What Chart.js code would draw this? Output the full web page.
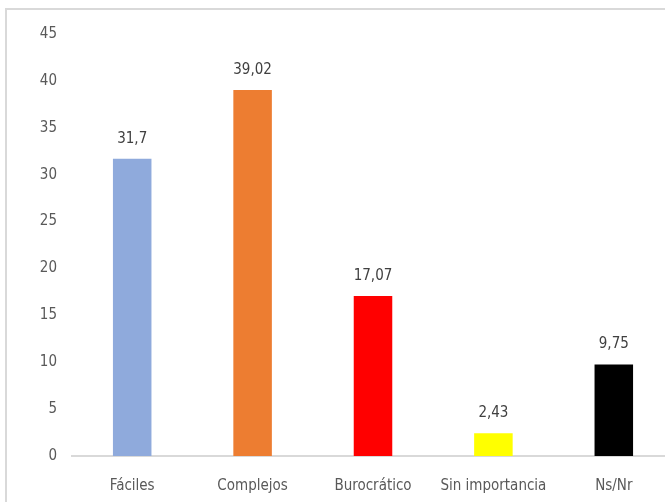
<!DOCTYPE html>
<html><head><meta charset="utf-8">
<script src="https://cdn.jsdelivr.net/npm/chart.js@4/dist/chart.umd.min.js"></script>
<style>
html,body{margin:0;padding:0;background:#fff;overflow:hidden;}
#wrap{position:absolute;left:5px;top:8px;width:667px;height:500px;border:2px solid #d9d9d9;background:#fff;}
canvas{display:block;}
</style></head>
<body>
<div id="wrap"><canvas id="c" width="667" height="500"></canvas></div>
<script>
const categories = ["Fáciles", "Complejos", "Burocrático", "Sin importancia", "Ns/Nr"];
const values = [31.7, 39.02, 17.07, 2.43, 9.75];
const valueLabels = ["31,7", "39,02", "17,07", "2,43", "9,75"];
const barColors = ["#8faadc", "#ed7d31", "#ff0000", "#ffff00", "#000000"];
const yTicks = [0, 5, 10, 15, 20, 25, 30, 35, 40, 45];

const FONT = "'DejaVu Sans Condensed', sans-serif";

const labelPlugin = {
  id: 'valueLabels',
  afterDatasetsDraw(chart) {
    const ctx = chart.ctx;
    const meta = chart.getDatasetMeta(0);
    ctx.save();
    ctx.font = "15px " + FONT;
    ctx.fillStyle = "#404040";
    ctx.textAlign = "center";
    ctx.textBaseline = "middle";
    meta.data.forEach((bar, i) => {
      ctx.fillText(valueLabels[i], bar.x, bar.y - 20);
    });
    ctx.restore();
  }
};

new Chart(document.getElementById('c'), {
  type: 'bar',
  data: {
    labels: categories,
    datasets: [{
      data: values,
      backgroundColor: barColors,
      categoryPercentage: 1,
      barPercentage: 0.32
    }]
  },
  options: {
    responsive: false,
    animation: false,
    layout: { padding: { top: 24, left: 0, right: 0, bottom: 0 } },
    plugins: { legend: { display: false }, tooltip: { enabled: false } },
    scales: {
      x: {
        grid: { display: true, drawOnChartArea: false, drawTicks: false, color: '#d9d9d9' },
        border: { display: true, color: '#d9d9d9', width: 2 },
        ticks: { color: '#595959', font: { family: FONT, size: 15 }, padding: 21, maxRotation: 0, autoSkip: false },
        afterFit(s) { s.height = 54; }
      },
      y: {
        min: 0, max: 45,
        afterBuildTicks(s) { s.ticks = yTicks.map(v => ({ value: v })); },
        grid: { display: false, drawTicks: false },
        border: { display: false },
        ticks: { color: '#595959', font: { family: FONT, size: 15 }, padding: 15 },
        afterFit(s) { s.width = 65; }
      }
    }
  },
  plugins: [labelPlugin]
});
</script>
</body></html>
